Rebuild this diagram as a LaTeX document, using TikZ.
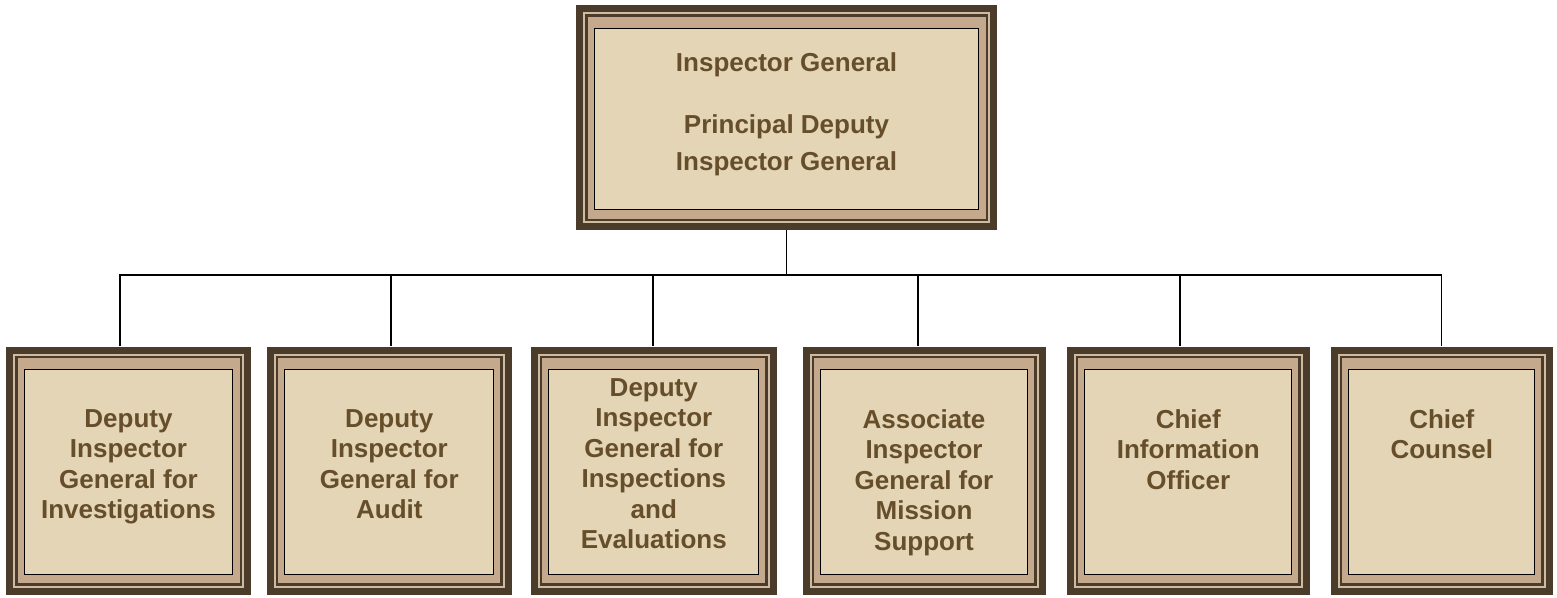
\documentclass[tikz,border=0pt]{standalone}
\usepackage{fontspec}
\setmainfont{Liberation Sans}
\definecolor{igdark}{RGB}{74,59,42}
\definecolor{iglight}{RGB}{206,187,160}
\definecolor{igtan}{RGB}{196,169,140}
\definecolor{iginner}{RGB}{227,213,182}
\definecolor{igtext}{RGB}{102,78,43}

\begin{document}
\begin{tikzpicture}[x=1pt,y=1pt,
    orgbox/.style={rectangle, inner sep=0pt, fill=igdark, line join=miter,
      path picture={
        \fill[iglight] ([shift={(7pt,-7pt)}]path picture bounding box.north west)
          rectangle ([shift={(-7pt,7pt)}]path picture bounding box.south east);
        \fill[igdark] ([shift={(9pt,-9pt)}]path picture bounding box.north west)
          rectangle ([shift={(-9pt,9pt)}]path picture bounding box.south east);
        \fill[igtan] ([shift={(11.5pt,-11.5pt)}]path picture bounding box.north west)
          rectangle ([shift={(-11.5pt,11.5pt)}]path picture bounding box.south east);
        \filldraw[fill=iginner, draw=black, line width=1pt]
          ([shift={(18pt,-23pt)}]path picture bounding box.north west)
          rectangle ([shift={(-18.5pt,20.5pt)}]path picture bounding box.south east);
      }},
    orgtext/.style={inner sep=0pt, align=center, text=igtext,
      font=\bfseries\fontsize{26}{30.5}\selectfont},
    orgline/.style={draw=black, line width=1.3pt}]
    \useasboundingbox (0,0) rectangle (1557,-597);

    % boxes
    \node[orgbox, minimum width=421pt, minimum height=225pt] (ig)  at (786.5,-117.5) {};
    \node[orgbox, minimum width=245pt, minimum height=248pt] (dig) at (128.5,-470.5) {};
    \node[orgbox, minimum width=245pt, minimum height=248pt] (dia) at (389.3,-470.5) {};
    \node[orgbox, minimum width=246pt, minimum height=248pt] (die) at (653.8,-470.5) {};
    \node[orgbox, minimum width=243pt, minimum height=248pt] (ams) at (924,-470.5) {};
    \node[orgbox, minimum width=243pt, minimum height=248pt] (cio) at (1188.3,-470.5) {};
    \node[orgbox, minimum width=222pt, minimum height=248pt] (cc)  at (1441.8,-470.5) {};

    % texts
    \node[orgtext, anchor=north, font=\bfseries\fontsize{26}{37}\selectfont] (ig-t)
      at ([yshift=-47.5pt]ig.north) {Inspector General\\[25pt]Principal Deputy\\Inspector General};
    \node[orgtext, anchor=north] (dig-t) at ([yshift=-63pt]dig.north) {Deputy\\Inspector\\General for\\Investigations};
    \node[orgtext, anchor=north] (dia-t) at ([yshift=-63pt]dia.north) {Deputy\\Inspector\\General for\\Audit};
    \node[orgtext, anchor=north] (die-t) at ([yshift=-32pt]die.north) {Deputy\\Inspector\\General for\\Inspections\\and\\Evaluations};
    \node[orgtext, anchor=north] (ams-t) at ([yshift=-63pt]ams.north) {Associate\\Inspector\\General for\\Mission\\Support};
    \node[orgtext, anchor=north] (cio-t) at ([yshift=-63pt]cio.north) {Chief\\Information\\Officer};
    \node[orgtext, anchor=north] (cc-t)  at ([yshift=-63pt]cc.north)  {Chief\\Counsel};

    % connectors
    \coordinate (j1) at (120,-275);
    \coordinate (j2) at (391,-275);
    \coordinate (j3) at (653,-275);
    \coordinate (j4) at (918,-275);
    \coordinate (j5) at (1180,-275);
    \coordinate (j6) at (1441.5,-275);
    \draw[orgline] (j1 |- dig.north) -- (j1) -- (j6) -- (j6 |- cc.north);
    \draw[orgline] (ig.south) -- (ig.south |- j1);
    \foreach \j/\b in {j2/dia, j3/die, j4/ams, j5/cio}
      \draw[orgline] (\j) -- (\j |- \b.north);
\end{tikzpicture}
\end{document}
